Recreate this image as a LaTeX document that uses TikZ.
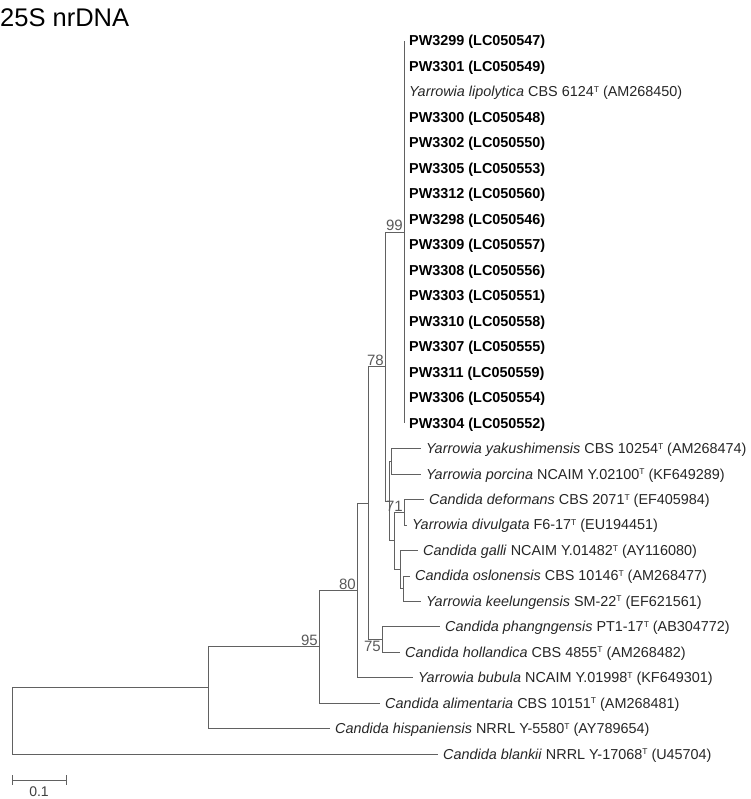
\documentclass[tikz,border=0pt]{standalone}
\usepackage{fontspec}
\setmainfont{Liberation Sans}
\usetikzlibrary{calc}
\newcommand{\tsup}{\raisebox{4.4pt}{\fontsize{8.5}{9}\selectfont T}}
\begin{document}
\begin{tikzpicture}[x=1pt,y=-1pt,
  br/.style={draw=black!62, line width=0.8pt},
  leaf/.style={anchor=west, inner sep=0pt, xshift=5pt, text height=10pt, text depth=0pt, font=\fontsize{14.4}{16}\selectfont, text=black!85},
  pw/.style={leaf, font=\fontsize{14.4}{16}\selectfont\bfseries, text=black},
  bs/.style={font=\fontsize{15}{17}\selectfont, text=black!65, inner sep=1pt},
]
\useasboundingbox (0,0) rectangle (750,799);
% title
\node[anchor=base west, inner sep=0pt, font=\fontsize{25.5}{28}\selectfont] (title) at (0,27) {25S nrDNA};
% internal nodes
\coordinate (n99)  at (404,232.05);
\coordinate (yp)   at (391,461.25);
\coordinate (dd)   at (404,512.2);
\coordinate (ok)   at (403,588.6);
\coordinate (gok)  at (400,569.5);
\coordinate (ddg)  at (394,540.85);
\coordinate (yk)   at (389,501.05);
\coordinate (n78)  at (385,366.55);
\coordinate (ph)   at (382,639.55);
\coordinate (a368) at (368,503.05);
\coordinate (n80)  at (357,590.4);
\coordinate (n95)  at (319,646.8);
\coordinate (n208) at (208,687.75);
\coordinate (root) at (12,721);
% polytomy
\foreach \i/\lab in {0/{PW3299 (LC050547)},1/{PW3301 (LC050549)},3/{PW3300 (LC050548)},4/{PW3302 (LC050550)},5/{PW3305 (LC050553)},6/{PW3312 (LC050560)},7/{PW3298 (LC050546)},8/{PW3309 (LC050557)},9/{PW3308 (LC050556)},10/{PW3303 (LC050551)},11/{PW3310 (LC050558)},12/{PW3307 (LC050555)},13/{PW3311 (LC050559)},14/{PW3306 (LC050554)},15/{PW3304 (LC050552)}}{
  \coordinate (t\i) at (404,{41+25.47*\i});
  \draw[br] (n99) |- (t\i);
  \node[pw] (L\i) at (t\i) {\lab};
}
\coordinate (t2) at (404,91.94);
\draw[br] (n99) |- (t2);
\node[leaf] (L2) at (t2) {\textit{Yarrowia lipolytica} CBS 6124\tsup{} (AM268450)};
% other leaves
\coordinate (t16) at (421,448.5);
\coordinate (t17) at (421,474.0);
\coordinate (t18) at (424,499.5);
\coordinate (t19) at (407,524.9);
\coordinate (t20) at (418,550.4);
\coordinate (t21) at (410,575.9);
\coordinate (t22) at (421,601.3);
\coordinate (t23) at (440,626.8);
\coordinate (t24) at (400,652.3);
\coordinate (t25) at (413,677.8);
\coordinate (t26) at (380,703.2);
\coordinate (t27) at (330,728.7);
\coordinate (t28) at (438,754.2);
\node[leaf] (L16) at (t16) {\textit{Yarrowia yakushimensis} CBS 10254\tsup{} (AM268474)};
\node[leaf] (L17) at (t17) {\textit{Yarrowia porcina} NCAIM Y.02100\tsup{} (KF649289)};
\node[leaf] (L18) at (t18) {\textit{Candida deformans} CBS 2071\tsup{} (EF405984)};
\node[leaf] (L19) at (t19) {\textit{Yarrowia divulgata} F6-17\tsup{} (EU194451)};
\node[leaf] (L20) at (t20) {\textit{Candida galli} NCAIM Y.01482\tsup{} (AY116080)};
\node[leaf] (L21) at (t21) {\textit{Candida oslonensis} CBS 10146\tsup{} (AM268477)};
\node[leaf] (L22) at (t22) {\textit{Yarrowia keelungensis} SM-22\tsup{} (EF621561)};
\node[leaf] (L23) at (t23) {\textit{Candida phangngensis} PT1-17\tsup{} (AB304772)};
\node[leaf] (L24) at (t24) {\textit{Candida hollandica} CBS 4855\tsup{} (AM268482)};
\node[leaf] (L25) at (t25) {\textit{Yarrowia bubula} NCAIM Y.01998\tsup{} (KF649301)};
\node[leaf] (L26) at (t26) {\textit{Candida alimentaria} CBS 10151\tsup{} (AM268481)};
\node[leaf] (L27) at (t27) {\textit{Candida hispaniensis} NRRL Y-5580\tsup{} (AY789654)};
\node[leaf] (L28) at (t28) {\textit{Candida blankii} NRRL Y-17068\tsup{} (U45704)};
% branches
\draw[br] (yp) |- (t16);
\draw[br] (yp) |- (t17);
\draw[br] (dd) |- (t18);
\draw[br] (dd) |- (t19);
\draw[br] (ok) |- (t21);
\draw[br] (ok) |- (t22);
\draw[br] (gok) |- (t20);
\draw[br] (gok) |- (ok);
\draw[br] (ddg) |- (dd);
\draw[br] (ddg) |- (gok);
\draw[br] (yk) |- (yp);
\draw[br] (yk) |- (ddg);
\draw[br] (n78) |- (n99);
\draw[br] (n78) |- (yk);
\draw[br] (ph) |- (t23);
\draw[br] (ph) |- (t24);
\draw[br] (a368) |- (n78);
\draw[br] (a368) |- (ph);
\draw[br] (n80) |- (a368);
\draw[br] (n80) |- (t25);
\draw[br] (n95) |- (n80);
\draw[br] (n95) |- (t26);
\draw[br] (n208) |- (n95);
\draw[br] (n208) |- (t27);
\draw[br] (root) |- (n208);
\draw[br] (root) |- (t28);
% bootstrap values
\node[bs, anchor=south east] (b99) at (n99) {99};
\node[bs, anchor=south east] (b78) at (n78) {78};
\node[bs, anchor=south east] (b71) at (dd) {71};
\node[bs, anchor=south east] (b80) at (n80) {80};
\node[bs, anchor=south east] (b95) at (n95) {95};
\node[bs, anchor=north east] (b75) at (ph) {75};
% scale bar
\coordinate (s1) at (12,780);
\coordinate (s2) at (66,780);
\draw[br] (s1) -- (s2);
\draw[br] ($(s1)+(0,-5)$) -- ($(s1)+(0,5)$);
\draw[br] ($(s2)+(0,-5)$) -- ($(s2)+(0,5)$);
\node[font=\fontsize{14}{16}\selectfont, text=black!75, inner sep=0pt] (sl) at (39,792) {0.1};
\end{tikzpicture}
\end{document}
